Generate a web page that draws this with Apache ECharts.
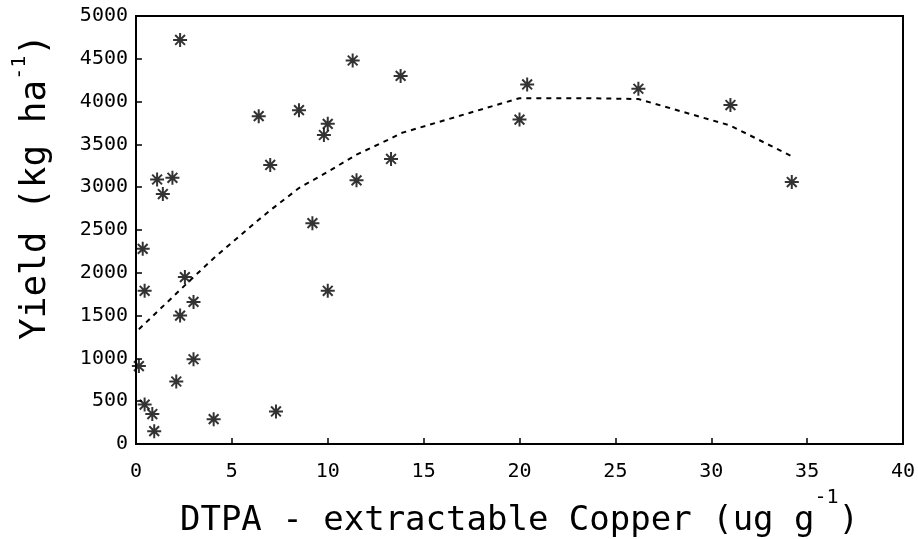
<!DOCTYPE html>
<html>
<head>
<meta charset="utf-8">
<script src="https://cdn.jsdelivr.net/npm/echarts@6/dist/echarts.min.js"></script>
<style>
  html, body { margin: 0; padding: 0; background: #fff; }
  #main { width: 918px; height: 539px; }
</style>
</head>
<body>
<div id="main"></div>
<script>
// measured points: DTPA copper (ug/g) vs yield (kg/ha)
var copper = [2.3, 11.3, 13.8, 20.4, 26.2, 31.0, 6.4, 8.5, 10.0, 9.8, 20.0, 13.3, 7.0,
  1.1, 1.9, 1.4, 11.5, 34.2, 9.2, 0.35, 2.55, 0.45, 10.0, 3.0, 2.3, 3.0, 0.15,
  2.1, 0.45, 0.85, 4.05, 7.3, 0.95];
var yieldKg = [4720, 4480, 4300, 4200, 4150, 3960, 3830, 3900, 3740, 3610, 3790, 3330, 3260,
  3090, 3110, 2920, 3080, 3060, 2580, 2280, 1950, 1790, 1790, 1660, 1500, 990, 910,
  730, 460, 350, 290, 380, 150];

// fitted curve (dashed)
var fitX = [0.15, 2.3, 3.0, 4.05, 6.4, 7.0, 8.5, 10.0, 11.5, 13.3, 13.8, 20.0, 20.4, 23.4, 26.2, 31.0, 34.2];
var fitY = [1340, 1800, 1950, 2170, 2620, 2730, 2990, 3180, 3380, 3570, 3630, 4040, 4040, 4040, 4030, 3720, 3360];

var xTicks = [0, 5, 10, 15, 20, 25, 30, 35, 40];
var yTicks = [0, 500, 1000, 1500, 2000, 2500, 3000, 3500, 4000, 4500, 5000];

var mono = 'DejaVu Sans Mono';
var star = 'path://M0,5L10,5M5,0L5,10M1.5,1.5L8.5,8.5M8.5,1.5L1.5,8.5';

var chart = echarts.init(document.getElementById('main'));

var pts = copper.map(function (x, i) { return [x, yieldKg[i]]; });
var fit = fitX.map(function (x, i) { return [x, fitY[i]]; });

chart.setOption({
  animation: false,
  backgroundColor: '#fff',
  grid: {
    left: 136, right: 15, top: 16, bottom: 95,
    containLabel: false, outerBoundsMode: 'none',
    show: true, borderColor: '#000', borderWidth: 2
  },
  xAxis: {
    type: 'value',
    min: xTicks[0], max: xTicks[xTicks.length - 1], interval: 5,
    splitLine: { show: false },
    axisLine: { lineStyle: { color: '#000', width: 2 } },
    axisTick: { inside: true, length: 6, lineStyle: { color: '#000', width: 1.5 } },
    axisLabel: { color: '#000', fontFamily: mono, fontSize: 20, margin: 18 },
    name: '{m|DTPA - extractable Copper (ug g}{s|-1}{m|)}',
    nameLocation: 'middle',
    nameGap: 44,
    nameTextStyle: {
      rich: {
        m: { fontFamily: mono, fontSize: 34, color: '#000', lineHeight: 50, verticalAlign: 'bottom' },
        s: { fontFamily: mono, fontSize: 20, color: '#000', lineHeight: 50, verticalAlign: 'top' }
      }
    }
  },
  yAxis: {
    type: 'value',
    min: yTicks[0], max: yTicks[yTicks.length - 1], interval: 500,
    splitLine: { show: false },
    axisLine: { lineStyle: { color: '#000', width: 2 } },
    axisTick: { inside: true, length: 6, lineStyle: { color: '#000', width: 1.5 } },
    axisLabel: {
      color: '#000', fontFamily: mono, fontSize: 20, margin: 8,
      formatter: function (v) { return String(v); }
    },
    name: '{m|Yield (kg ha}{s|-1}{m|)}',
    nameLocation: 'middle',
    nameGap: 82,
    nameTextStyle: {
      padding: [0, 0, 0, 86],
      rich: {
        m: { fontFamily: mono, fontSize: 36, color: '#000', lineHeight: 44, verticalAlign: 'bottom' },
        s: { fontFamily: mono, fontSize: 20, color: '#000', lineHeight: 44, verticalAlign: 'top' }
      }
    }
  },
  series: [
    {
      name: 'observed',
      type: 'scatter',
      data: pts,
      symbol: star,
      symbolSize: 14,
      itemStyle: { color: 'rgba(0,0,0,0)', borderColor: '#000', borderWidth: 2 }
    },
    {
      name: 'fit',
      type: 'line',
      data: fit,
      showSymbol: false,
      lineStyle: { color: '#000', width: 2, type: [5, 5] }
    }
  ]
});
</script>
</body>
</html>
